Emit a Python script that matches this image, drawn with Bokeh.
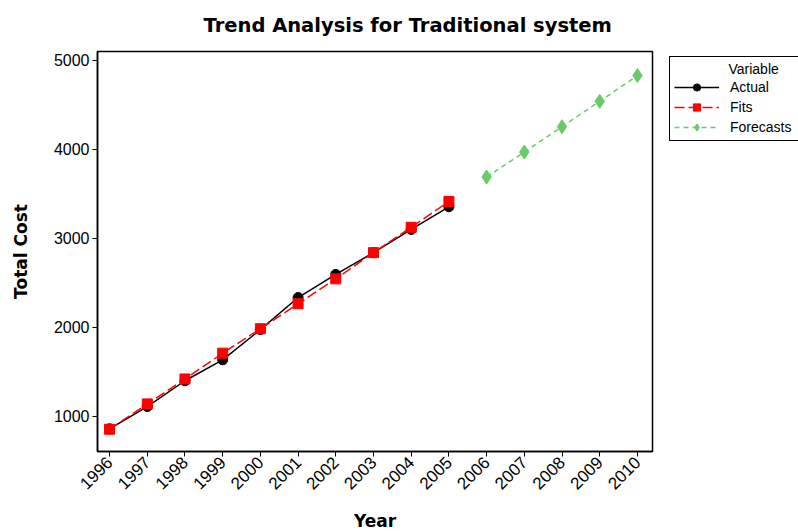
from bokeh.plotting import figure
from bokeh.models import Legend, LegendItem, Range1d, FixedTicker, Title
from bokeh.embed import file_html
from bokeh.resources import INLINE
import math

years_fit = [1996, 1997, 1998, 1999, 2000, 2001, 2002, 2003, 2004, 2005]
actual = [860, 1110, 1400, 1635, 1975, 2335, 2595, 2840, 3100, 3355]
fits = [855, 1140, 1420, 1710, 1985, 2265, 2545, 2840, 3125, 3415]
years_fc = [2006, 2007, 2008, 2009, 2010]
forecasts = [3690, 3970, 4255, 4540, 4830]
x_ticks = list(range(1996, 2011))
y_ticks = [1000, 2000, 3000, 4000, 5000]

FONT = "Liberation Sans"
BOLD = "DejaVu Sans"

p = figure(frame_width=555, frame_height=400, output_backend="svg", toolbar_location=None,
           x_range=Range1d(1995.68, 2010.4), y_range=Range1d(605, 5100),
           min_border_left=97, min_border_top=50, min_border_bottom=82, min_border_right=17)
p.title = Title(text="Trend Analysis for Traditional system", align="left", offset=106,
                text_font=BOLD, text_font_size="19.5px", text_font_style="bold",
                text_color="black", standoff=26, vertical_align="top")
p.grid.visible = False
p.outline_line_color = "black"
p.outline_line_width = 1.5

for ax in (p.xaxis[0], p.yaxis[0]):
    ax.axis_line_color = "black"
    ax.axis_line_width = 1.5
    ax.major_tick_line_color = "black"
    ax.minor_tick_line_color = None
    ax.major_tick_in = 0
    ax.major_tick_out = 5
    ax.major_label_text_font = FONT
    ax.major_label_text_font_size = "16px"
    ax.major_label_text_color = "black"
    ax.major_label_standoff = 3
    ax.axis_label_text_font = BOLD
    ax.axis_label_text_font_size = "17px"
    ax.axis_label_text_font_style = "bold"
    ax.axis_label_text_color = "black"

p.xaxis.ticker = FixedTicker(ticks=x_ticks)
p.yaxis.ticker = FixedTicker(ticks=y_ticks)
p.xaxis.major_label_orientation = math.pi / 4
p.xaxis.major_label_text_font_size = "17px"
p.xaxis.axis_label = "Year"
p.yaxis.axis_label = "Total Cost"
p.yaxis.axis_label_standoff = 20
p.xaxis.axis_label_standoff = 13

green = "#66CC66"
l1 = p.line(years_fit, actual, line_color="black", line_width=1.5)
m1 = p.scatter(years_fit, actual, marker="circle", size=10, fill_color="black", line_color="black")
l2 = p.line(years_fit, fits, line_color="red", line_width=1.5, line_dash="10 4")
m2 = p.scatter(years_fit, fits, marker="square", size=10, fill_color="red", line_color="red")
l3 = p.line(years_fc, forecasts, line_color=green, line_width=1.5, line_dash="5 4")
m3 = p.scatter(years_fc, forecasts, marker="diamond", size=14, fill_color=green, line_color=green)

legend = Legend(items=[LegendItem(label="Actual", renderers=[l1, m1]),
                       LegendItem(label="Fits", renderers=[l2, m2]),
                       LegendItem(label="Forecasts", renderers=[l3, m3])],
                location=(17, 310), title="\u00a0" * 14 + "Variable",
                title_text_font=FONT, title_text_font_size="14px", title_text_font_style="normal",
                title_text_color="black",
                label_text_font=FONT, label_text_font_size="14px", label_text_color="black",
                border_line_color="black", border_line_width=1, border_line_alpha=1,
                glyph_width=45, glyph_height=18, label_height=18, label_width=65, spacing=2,
                padding=4, margin=0, label_standoff=11, title_standoff=1)
p.add_layout(legend, "right")

open("out.html", "w").write(file_html(p, INLINE))
